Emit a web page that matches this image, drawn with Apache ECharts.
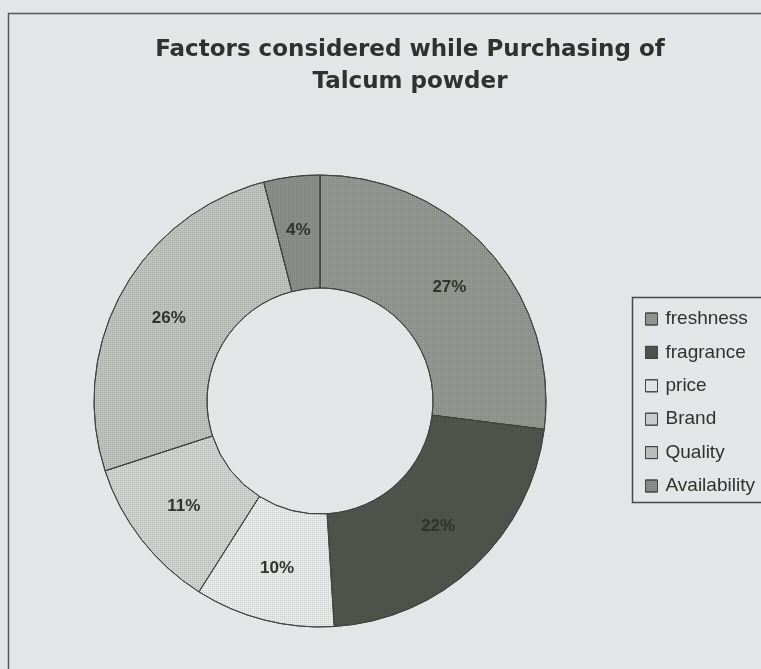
<!DOCTYPE html>
<html>
<head>
<meta charset="utf-8">
<script src="https://cdn.jsdelivr.net/npm/echarts@6/dist/echarts.min.js"></script>
<style>
  html, body { margin: 0; padding: 0; background: #e3e5e6; }
  #chart { width: 761px; height: 669px; }
</style>
</head>
<body>
<div id="chart"></div>
<script>
var categories = ["freshness", "fragrance", "price", "Brand", "Quality", "Availability"];
var shares = [27, 22, 10, 11, 26, 4];
var colors = ["#959891", "#50554d", "#e8eae9", "#d0d2cf", "#c0c2be", "#8c8f89"];

var chart = echarts.init(document.getElementById("chart"));

var dots = {
  symbol: "rect",
  symbolSize: 1,
  dashArrayX: [1, 1],
  dashArrayY: [1, 1],
  color: "rgba(0,0,0,0.12)"
};

chart.setOption({
  backgroundColor: "#e3e5e6",
  color: colors,
  title: {
    text: "Factors considered while Purchasing of\nTalcum powder",
    left: 405,
    top: 29,
    textAlign: "center",
    textStyle: {
      fontFamily: "DejaVu Sans",
      fontSize: 23,
      fontWeight: "bold",
      color: "#2e332c",
      lineHeight: 32
    }
  },
  graphic: [
    {
      type: "rect",
      shape: { x: 8.5, y: 13.5, width: 800, height: 700 },
      style: { fill: "none", stroke: "#555a55", lineWidth: 1.5 },
      silent: true
    },
    {
      type: "rect",
      shape: { x: 632.5, y: 297.5, width: 140, height: 205 },
      style: { fill: "none", stroke: "#444944", lineWidth: 1.5 },
      silent: true
    }
  ],
  legend: {
    orient: "vertical",
    left: 640,
    top: 304,
    itemWidth: 12,
    itemHeight: 12,
    itemGap: 13.4,
    icon: "rect",
    data: categories,
    itemStyle: { borderColor: "#444", borderWidth: 1 },
    textStyle: {
      fontFamily: "Liberation Sans, Arial",
      fontSize: 19,
      lineHeight: 20,
      color: "#2e332c",
      padding: [0, 0, 0, 3]
    }
  },
  series: [
    {
      type: "pie",
      center: [320, 401],
      radius: [113, 226],
      startAngle: 90,
      clockwise: true,
      avoidLabelOverlap: false,
      itemStyle: { borderColor: "#3f443f", borderWidth: 1, decal: dots },
      label: {
        position: "inside",
        formatter: "{c}%",
        fontFamily: "Liberation Sans, Arial",
        fontSize: 17,
        fontWeight: "bold",
        color: "#2e332c"
      },
      labelLine: { show: false },
      emphasis: { disabled: true },
      data: categories.map(function (name, i) {
        return { name: name, value: shares[i] };
      })
    }
  ],
  aria: { enabled: false }
});
</script>
</body>
</html>
